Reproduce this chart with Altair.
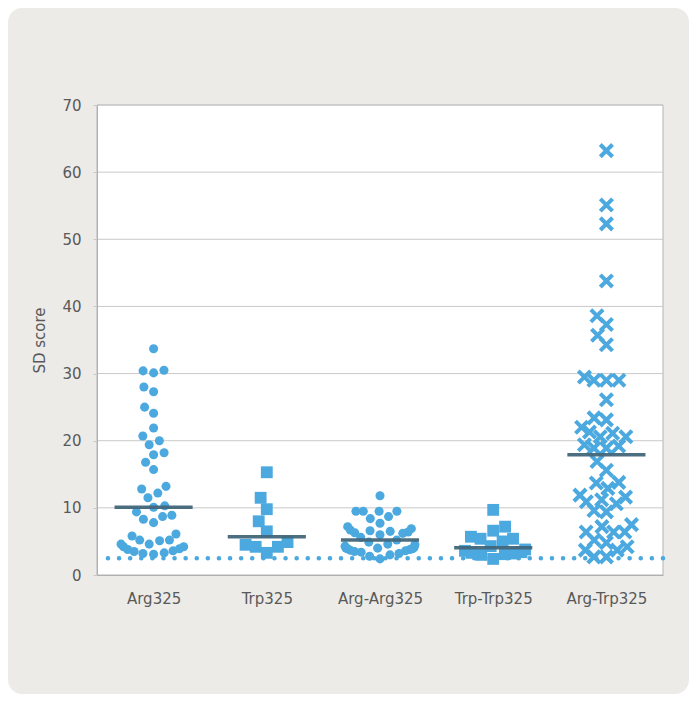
import json
import math
import altair as alt
import pandas as pd

# ---------------- data ----------------
categories = ["Arg325", "Trp325", "Arg-Arg325", "Trp-Trp325", "Arg-Trp325"]

arg325 = [33.7, 30.5, 30.1, 30.4, 28.0, 27.3, 25.0, 24.1, 21.9, 20.0, 19.4, 20.7,
          17.9, 18.2, 16.8, 15.7, 13.2, 12.8, 12.2, 11.5, 10.3, 10.1, 8.9, 9.4,
          8.3, 8.7, 7.8, 6.1, 5.8, 5.2, 5.2, 4.6, 4.2, 3.8, 3.5, 3.2, 3.1, 3.3,
          3.6, 3.9, 4.2, 4.6, 5.1]
trp325 = [15.3, 11.5, 9.8, 8.0, 6.5, 4.9, 4.2, 3.3, 4.2, 4.5]
arg_arg325 = [11.8, 9.5, 9.5, 9.5, 9.5, 8.7, 8.4, 7.7, 7.2, 6.9, 6.7, 6.6, 6.5,
              6.4, 6.3, 6.2, 6.0, 5.6, 5.2, 4.9, 4.6, 4.5, 4.3, 4.1, 4.0, 4.0,
              3.9, 3.9, 3.8, 3.7, 3.6, 3.5, 3.4, 3.2, 3.0, 2.8, 2.4]
trp_trp325 = [9.7, 7.2, 6.6, 5.7, 5.4, 5.4, 5.0, 4.3, 3.8, 3.6, 3.4, 3.3, 3.2,
              3.1, 3.0, 2.4]
arg_trp325 = [63.2, 55.1, 52.3, 43.8, 38.6, 37.3, 35.7, 34.3, 29.5, 29.0, 29.0,
              29.0, 26.1, 23.4, 23.1, 22.0, 21.3, 21.1, 20.6, 20.6, 19.4, 19.2,
              18.9, 18.9, 16.9, 15.6, 13.8, 13.7, 12.9, 11.9, 11.6, 11.2, 10.9,
              10.6, 9.6, 9.4, 7.5, 7.2, 6.4, 6.4, 6.4, 5.2, 4.8, 4.2, 3.7, 3.7,
              2.7, 2.7]
markers = ["circle", "square", "circle", "square", "cross"]
threshold = [2.5]
y_ticks = [0, 10, 20, 30, 40, 50, 60, 70]
grid_ticks = [10, 20, 30, 40, 50, 60, 70]

series = [arg325, trp325, arg_arg325, trp_trp325, arg_trp325]

# ---------------- layout constants ----------------
W, H = 566, 470
YMAX = 70
PX_PER_UNIT = H / YMAX
BAND = W / len(categories)
COLLIDE = {"circle": 11.0, "square": 13.0, "cross": 13.0}
SPREAD = 36.0  # soft limit (px) of the horizontal spread of a swarm
BLUE = "#4BA9DF"
TEXT = "#595959"
GRID = "#c9c9c9"
FONT = "DejaVu Sans"


def beeswarm(values_px, d):
    """Deterministic beeswarm: offsets (px) so markers do not overlap."""
    order = sorted(range(len(values_px)), key=lambda i: values_px[i])
    placed = []
    xs = [0.0] * len(values_px)
    for i in order:
        y = values_px[i]
        intervals = []
        for px, py in placed:
            dy = abs(py - y)
            if dy < d:
                dx = math.sqrt(d * d - dy * dy)
                intervals.append((px - dx, px + dx))
        cands = [0.0] + [a for a, _ in intervals] + [b for _, b in intervals]
        cands.sort(key=lambda c: (abs(c), c))
        for c in cands:
            if all(not (a + 1e-6 < c < b - 1e-6) for a, b in intervals):
                xs[i] = c
                break
        placed.append((xs[i], y))
    # soft compression of very wide rows (markers then overlap, as in the original)
    return [SPREAD * math.tanh(x / SPREAD) for x in xs]


rows = []
for gi, (cat, vals, mk) in enumerate(zip(categories, series, markers)):
    offs = beeswarm([v * PX_PER_UNIT for v in vals], COLLIDE[mk])
    for v, o in zip(vals, offs):
        rows.append({"group": cat, "idx": gi, "value": v,
                     "xpos": gi + o / BAND, "marker": mk})
df = pd.DataFrame(rows)

xscale = alt.Scale(domain=[-0.5, len(categories) - 0.5], nice=False, zero=False)
yscale = alt.Scale(domain=[0, YMAX], nice=False, zero=True)

label_expr = json.dumps(categories) + "[datum.value]"

x_axis = alt.Axis(values=list(range(len(categories))), labelExpr=label_expr,
                  title=None, grid=False, ticks=False, tickSize=0,
                  labelPadding=16, labelFontSize=15, labelColor=TEXT,
                  labelFont=FONT, domainColor="#b0b0b0", zindex=1)
y_axis = alt.Axis(values=y_ticks, title="SD score", grid=False, tickSize=4,
                  tickColor=GRID, labelPadding=12, labelFontSize=15,
                  labelColor=TEXT, labelFont=FONT, titleFont=FONT,
                  titleFontSize=15, titleColor=TEXT, titleFontWeight="normal",
                  titlePadding=14, domainColor="#b0b0b0", zindex=1)

one = pd.DataFrame({"k": [0]})

# background panel with rounded corners (decoration)
panel = alt.Chart(one).mark_rect(fill="#ecebe7", cornerRadius=14).encode(
    x=alt.value(-89), x2=alt.value(592), y=alt.value(-97), y2=alt.value(589))

# white plot area
plot_bg = alt.Chart(one).mark_rect(fill="white", stroke="#b4b4b4", strokeWidth=1).encode(
    x=alt.datum(-0.5, type="quantitative", scale=xscale, axis=x_axis),
    x2=alt.datum(len(categories) - 0.5),
    y=alt.datum(0, type="quantitative", scale=yscale, axis=y_axis),
    y2=alt.datum(YMAX))

grid = alt.Chart(pd.DataFrame({"g": grid_ticks})).mark_rule(
    color=GRID, strokeWidth=1).encode(y=alt.Y("g:Q", scale=yscale))

base = alt.Chart(df)
xenc = alt.X("xpos:Q", scale=xscale)
yenc = alt.Y("value:Q", scale=yscale)

circles = base.transform_filter(alt.datum.marker == "circle").mark_point(
    shape="circle", filled=True, size=82, opacity=1, color=BLUE).encode(x=xenc, y=yenc)
squares = base.transform_filter(alt.datum.marker == "square").mark_point(
    shape="square", filled=True, size=140, opacity=1, color=BLUE).encode(x=xenc, y=yenc)
crosses = base.transform_filter(alt.datum.marker == "cross").mark_point(
    shape="M-1,-1L1,1M1,-1L-1,1", filled=False, size=150, opacity=1,
    color=BLUE, strokeWidth=4, strokeCap="butt").encode(x=xenc, y=yenc)

medians = base.transform_aggregate(
    med="median(value)", groupby=["group", "idx"]
).transform_calculate(
    x1="datum.idx - 0.345", x2="datum.idx + 0.345"
).mark_rule(color="#41667a", strokeWidth=3.5, opacity=0.95).encode(
    x=alt.X("x1:Q", scale=xscale), x2="x2:Q", y=alt.Y("med:Q", scale=yscale))

dotted = alt.Chart(pd.DataFrame({"t": threshold})).mark_rule(
    color=BLUE, strokeWidth=4.5, strokeDash=[0.1, 11], strokeCap="round").encode(
    y=alt.Y("t:Q", scale=yscale))

chart = alt.layer(panel, plot_bg, grid, circles, squares, crosses, medians, dotted).properties(
    width=W, height=H, padding=0, background="white"
).configure_view(stroke=None)

chart.save("out.html", embed_options={"renderer": "svg", "actions": False})
